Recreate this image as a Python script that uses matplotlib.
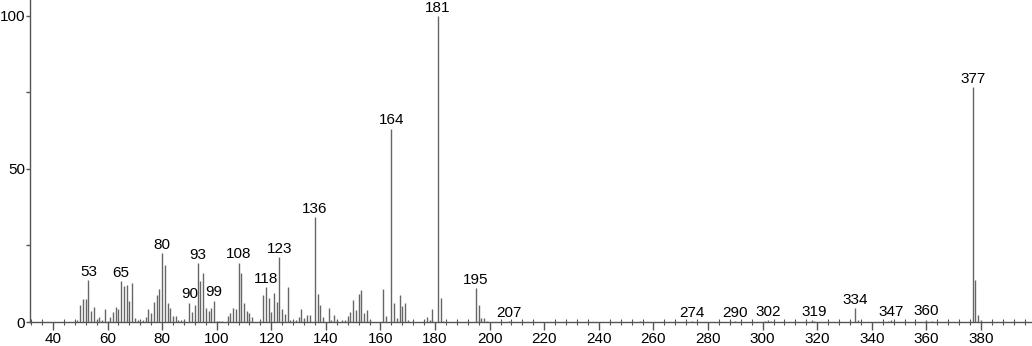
import matplotlib
matplotlib.use("Agg")
import matplotlib.pyplot as plt
from matplotlib.ticker import MultipleLocator, FixedLocator

plt.rcParams['font.family'] = ['Liberation Sans', 'DejaVu Sans']

mz = [49, 50, 51, 52, 53, 54, 55, 56, 57, 58, 59, 60, 61, 62, 63, 64, 65, 66, 67, 68, 69,
      70, 71, 72, 73, 74, 75, 76, 77, 78, 79, 80, 81, 82, 83, 84, 85, 86, 87, 88,
      90, 91, 92, 93, 94, 95, 96, 97, 98, 99, 100, 101, 102, 104, 105, 106, 107, 108,
      109, 110, 111, 112, 113, 116, 117, 118, 119, 120, 121, 122, 123, 124, 125, 126,
      127, 128, 129, 130, 131, 132, 133, 134, 136, 137, 138, 139, 141, 142, 143, 144,
      146, 147, 148, 149, 150, 151, 152, 153, 154, 155, 156, 161, 162, 164, 165, 166,
      167, 168, 169, 170, 176, 177, 178, 179, 181, 182, 183, 195, 196, 197, 198, 199,
      207, 255, 274, 290, 301, 302, 303, 316, 318, 319, 334, 335, 346, 347, 360, 362,
      377, 378, 379, 380]
intensity = [0.6, 5.5, 7.5, 7.6, 13.6, 3.5, 5.0, 0.7, 1.5, 0.5, 4.2, 0.3, 1.5, 3.2, 4.8, 4.2, 13.3, 11.6, 12.1, 6.7, 12.7,
             1.2, 0.6, 0.3, 0.6, 1.7, 4.1, 3.0, 6.6, 8.8, 10.8, 22.4, 18.6, 6.3, 4.5, 2.0, 1.9, 0.8, 0.5, 0.5,
             6.3, 3.2, 5.4, 19.2, 13.4, 16.1, 4.5, 3.6, 4.7, 6.9, 0.3, 0.3, 0.3, 1.9, 3.0, 4.5, 4.1, 19.4,
             15.9, 6.1, 3.6, 2.8, 1.5, 0.4, 8.8, 11.3, 7.8, 3.2, 9.4, 6.5, 21.1, 4.2, 2.5, 11.3,
             0.8, 0.4, 0.5, 1.7, 4.1, 1.2, 2.2, 2.2, 34.2, 9.0, 5.7, 1.7, 4.7, 0.8, 2.2, 0.5,
             0.5, 0.5, 2.0, 3.3, 7.1, 3.8, 9.0, 10.3, 3.1, 3.8, 0.5, 10.9, 2.0, 63.1, 6.3, 1.2,
             8.7, 5.2, 6.1, 0.5, 0.3, 1.6, 0.7, 4.1, 100.0, 7.7, 0.3, 11.0, 5.6, 1.2, 1.4, 0.4,
             0.3, 0.3, 0.3, 0.3, 0.4, 0.6, 0.4, 0.4, 0.5, 0.4, 4.6, 0.5, 0.4, 0.5, 0.8, 0.3,
             76.8, 13.7, 2.3, 0.8]
labeled = [53, 65, 80, 90, 93, 99, 108, 118, 123, 136, 164, 181, 195, 207, 274, 290,
           302, 319, 334, 347, 360, 377]
xticks = list(range(40, 381, 20))
yticks_major = [0, 50, 100]
yticks_minor = [25, 75]

W, H = 1032, 346
fig = plt.figure(figsize=(W / 100, H / 100), dpi=100)
ax = fig.add_axes([30 / W, 24 / H, (W - 30) / W, 322 / H])

ax.vlines(mz, 0, intensity, colors='#666666', linewidth=1.0)

lookup = dict(zip(mz, intensity))
for m in labeled:
    ax.annotate(str(m), xy=(m, lookup[m]), xytext=(0, 1.0), textcoords='offset points',
                ha='center', va='bottom', fontsize=11, color='black')

ax.set_xlim(31.6, 398.7)
ax.set_ylim(0, 105.2)

for s in ['top', 'right']:
    ax.spines[s].set_visible(False)
for s in ['left', 'bottom']:
    ax.spines[s].set_color('#555555')
    ax.spines[s].set_linewidth(1.0)

ax.xaxis.set_major_locator(FixedLocator(xticks))
ax.xaxis.set_minor_locator(MultipleLocator(4))
ax.yaxis.set_major_locator(FixedLocator(yticks_major))
ax.yaxis.set_minor_locator(FixedLocator(yticks_minor))

ax.tick_params(axis='x', which='major', direction='out', length=6, width=1, color='#555555',
               labelsize=11, pad=1.5)
ax.tick_params(axis='x', which='minor', direction='inout', length=5, width=0.8, color='#555555')
ax.tick_params(axis='y', which='major', direction='out', length=3, width=1, color='#555555',
               labelsize=11, pad=0.5)
ax.tick_params(axis='y', which='minor', direction='out', length=3, width=1, color='#555555')

fig.savefig('out.png', dpi=100)
